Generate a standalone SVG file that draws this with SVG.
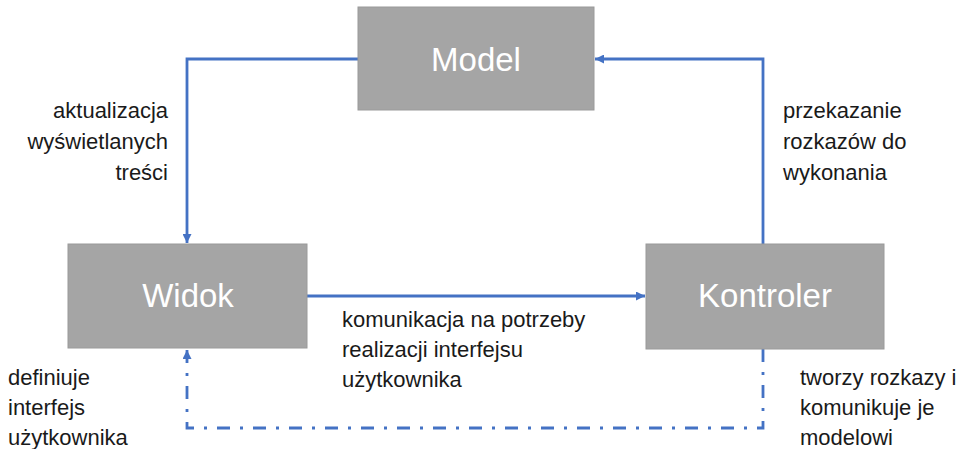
<svg xmlns="http://www.w3.org/2000/svg" width="970" height="449" viewBox="0 0 970 449">
<defs>
<style>
.box{fill:#a5a5a5;stroke:#9a9a9a;stroke-width:1}
.bt{font-family:"Liberation Sans",Arial,sans-serif;font-size:33px;fill:#ffffff;text-anchor:middle}
.lbl{font-family:"Liberation Sans",Arial,sans-serif;font-size:22px;fill:#1a1a1a}
.r{text-anchor:end}
.ln{fill:none;stroke:#4472c4;stroke-width:2.8}
.dash{stroke-dasharray:13 10 3 10}
</style>
<marker id="ah" viewBox="0 0 10 10" refX="10" refY="5" markerWidth="10" markerHeight="9" markerUnits="userSpaceOnUse" orient="auto">
<path d="M0,0 L10,5 L0,10 z" fill="#4472c4"/>
</marker>
</defs>
<rect width="970" height="449" fill="#ffffff"/>
<g id="connectors">
<path class="ln" d="M358,59 H187 V243" marker-end="url(#ah)"/>
<path class="ln" d="M763,244 V59 H595" marker-end="url(#ah)"/>
<path class="ln" d="M307,296 H645" marker-end="url(#ah)"/>
<path class="ln dash" d="M763,349 V428 H187 V350" marker-end="url(#ah)"/>
</g>
<g id="model">
<rect class="box" x="358" y="7" width="236" height="103"/>
<text class="bt" x="476" y="71">Model</text>
</g>
<g id="widok">
<rect class="box" x="68" y="244" width="239" height="104"/>
<text class="bt" x="188" y="307">Widok</text>
</g>
<g id="kontroler">
<rect class="box" x="646" y="244" width="238" height="105"/>
<text class="bt" x="765" y="307">Kontroler</text>
</g>
<g id="labels">
<text class="lbl r" x="168" y="118">aktualizacja</text>
<text class="lbl r" x="168" y="149">wyświetlanych</text>
<text class="lbl r" x="168" y="180">treści</text>
<text class="lbl" x="783" y="118">przekazanie</text>
<text class="lbl" x="783" y="149">rozkazów do</text>
<text class="lbl" x="783" y="180">wykonania</text>
<text class="lbl" x="342" y="327">komunikacja na potrzeby</text>
<text class="lbl" x="342" y="357">realizacji interfejsu</text>
<text class="lbl" x="342" y="387">użytkownika</text>
<text class="lbl" x="8" y="385">definiuje</text>
<text class="lbl" x="8" y="415">interfejs</text>
<text class="lbl" x="8" y="445">użytkownika</text>
<text class="lbl" x="800" y="385">tworzy rozkazy i</text>
<text class="lbl" x="800" y="415">komunikuje je</text>
<text class="lbl" x="800" y="445">modelowi</text>
</g>
</svg>
